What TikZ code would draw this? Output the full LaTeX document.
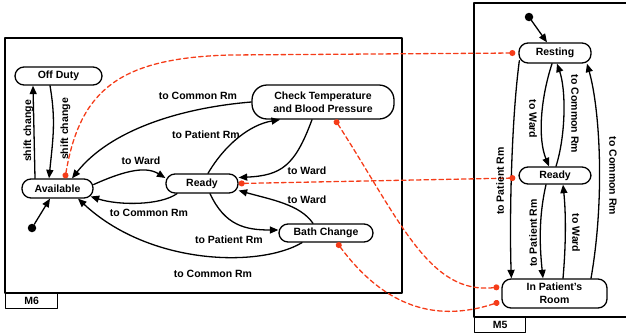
\documentclass[tikz,border=0pt]{standalone}
\usepackage{fontspec}
\setmainfont{Liberation Sans}
\usetikzlibrary{arrows.meta}
\definecolor{linkred}{RGB}{245,60,25}
\begin{document}
\begin{tikzpicture} [x=1pt, y=-1pt, font=\bfseries\fontsize{10.5}{13}\selectfont, line cap = round, line join = round, >={Triangle[length=8.5pt,width=7pt]},
		state/.style={draw, line width=1.3pt, rounded corners=9pt, inner sep=0pt},
		frame/.style={draw, line width=1.3pt},
		trans/.style={->, line width=1.3pt},
		link/.style={linkred, line width=1.3pt, dash pattern=on 4.5pt off 3pt, {Circle[length=6pt]}-{Circle[length=6pt]}},
		start/.style={circle, fill, inner sep=0pt, minimum size=8.5pt},
		lbl/.style={inner sep=0pt}]
			\useasboundingbox (0,0) rectangle (626,335);
			\draw[frame] (5,38) rectangle (402,293);
			\node[frame, anchor=north west, minimum width=52pt, minimum height=15pt, inner sep=0pt] (m6) at (5,293) {M6};
			\draw[frame] (474,3) rectangle (640,317);
			\node[frame, anchor=north west, minimum width=51pt, minimum height=15pt, inner sep=0pt] (m5) at (474,317) {M5};
			\node[state, minimum width=87pt, minimum height=18pt] (offduty) at (58.5,76) {Off Duty};
			\node[state, minimum width=71pt, minimum height=19pt] (avail) at (57.5,188.5) {Available};
			\node[state, minimum width=72pt, minimum height=19pt] (ready) at (202,183.5) {Ready};
			\node[state, rounded corners=15pt, align=center, minimum width=142pt, minimum height=34pt] (check) at (323,102) {Check Temperature\\and Blood Pressure};
			\node[state, minimum width=94pt, minimum height=18pt] (bath) at (326,233) {Bath Change};
			\node[start] (init6) at (32,228) {};
			\node[state, minimum width=72pt, minimum height=20pt] (rest) at (555,53) {Resting};
			\node[state, minimum width=72pt, minimum height=17pt] (rready) at (555,175.5) {Ready};
			\node[state, align=center, minimum width=105pt, minimum height=29pt] (inroom) at (554.5,293.5) {In Patient's\\Room};
			\node[start] (init5) at (529,17) {};
			\draw[trans] ([xshift=-22.5pt]avail.north) -- ([xshift=-25.5pt]offduty.south);
			\draw[trans] ([xshift=-8.5pt]offduty.south) .. controls +(6,35) and +(4,-40) .. ([xshift=-8.5pt]avail.north);
			\draw[trans] (check.west) .. controls +(-72,6) and +(38,-48) .. ([xshift=14.5pt]avail.north);
			\draw[trans] ([xshift=6pt]ready.north) .. controls +(17,-29) and +(-30,5) .. ([xshift=-43pt]check.south);
			\draw[trans] ([xshift=-11pt]check.south) .. controls +(-17,46) and +(43,-2) .. ([yshift=6pt]ready.east);
			\draw[trans] ([yshift=4pt]avail.east) .. controls +(27,-12) and +(-21,-13) .. ([yshift=5.5pt]ready.west);
			\draw[trans] ([xshift=-25pt]ready.south) .. controls +(-17,12) and +(28,9) .. ([shift={(-3pt,-8pt)}]avail.east);
			\draw[trans] ([xshift=8pt]ready.south) .. controls +(15,32) and +(-33,0) .. ([yshift=3pt]bath.west);
			\draw[trans] ([xshift=-13pt]bath.north) .. controls +(-13,-19) and +(32,9) .. ([yshift=-7pt]ready.east);
			\draw[trans] ([xshift=-24pt]bath.south) .. controls +(-42,25) and +(72,67) .. ([xshift=20.5pt]avail.south);
			\draw[trans] (init6) -- ([xshift=-7.5pt]avail.south);
			\draw[trans] (init5) -- ([xshift=-8pt]rest.north);
			\draw[trans] ([xshift=-3pt]rest.south) .. controls +(-12,37) and +(-11,-27) .. ([xshift=-6pt]rready.north);
			\draw[trans] ([xshift=1pt]rready.north) .. controls +(10,-32) and +(9,26) .. ([xshift=2pt]rest.south);
			\draw[trans] ([shift={(1pt,3pt)}]rest.south west) .. controls +(-8,60) and +(-2,-59) .. ([xshift=10pt]inroom.north west);
			\draw[trans] ([xshift=-9pt]rready.south) .. controls +(-8,35) and +(-3,-29) .. ([xshift=-11.5pt]inroom.north);
			\draw[trans] ([xshift=8.5pt]inroom.north) .. controls +(3,-34) and +(3,29) .. ([xshift=8pt]rready.south);
			\draw[trans] ([xshift=36.5pt]inroom.north) .. controls +(14,-80) and +(13,46) .. ([xshift=32pt]rest.south);
			\draw[link] ([xshift=7.5pt]avail.north) .. controls +(15,-89) and +(-110,3) .. (230,55) -- ([xshift=-3pt]rest.west);
			\draw[link] (ready.east) -- ([shift={(-3pt,-2.5pt)}]rready.west);
			\draw[link] ([xshift=12pt]check.south) .. controls +(65,101) and +(-70,8) .. ([shift={(-2pt,6.5pt)}]inroom.west);
			\draw[link] ([xshift=11pt]bath.south) .. controls +(43,58) and +(-70,23) .. ([shift={(-2pt,-8.5pt)}]inroom.west);
			\path (28.5,131) node[lbl, rotate=90]{shift change} (65.5,129) node[lbl, rotate=90]{shift change};
			\path (198,96) node[lbl]{to Common Rm} (206,135) node[lbl]{to Patient Rm};
			\path (141,161) node[lbl]{to Ward} (307,171) node[lbl]{to Ward};
			\path (149,213) node[lbl]{to Common Rm} (229,240) node[lbl]{to Patient Rm};
			\path (307,200) node[lbl]{to Ward} (213,274) node[lbl]{to Common Rm};
			\path (533,119) node[lbl, rotate=-90]{to Ward} (575,114) node[lbl, rotate=-90]{to Common Rm};
			\path (500,181) node[lbl, rotate=90]{to Patient Rm} (533,233) node[lbl, rotate=90]{to Patient Rm};
			\path (576,233) node[lbl, rotate=-90]{to Ward} (613,176) node[lbl, rotate=-90]{to Common Rm};
		\end{tikzpicture}
\end{document}
